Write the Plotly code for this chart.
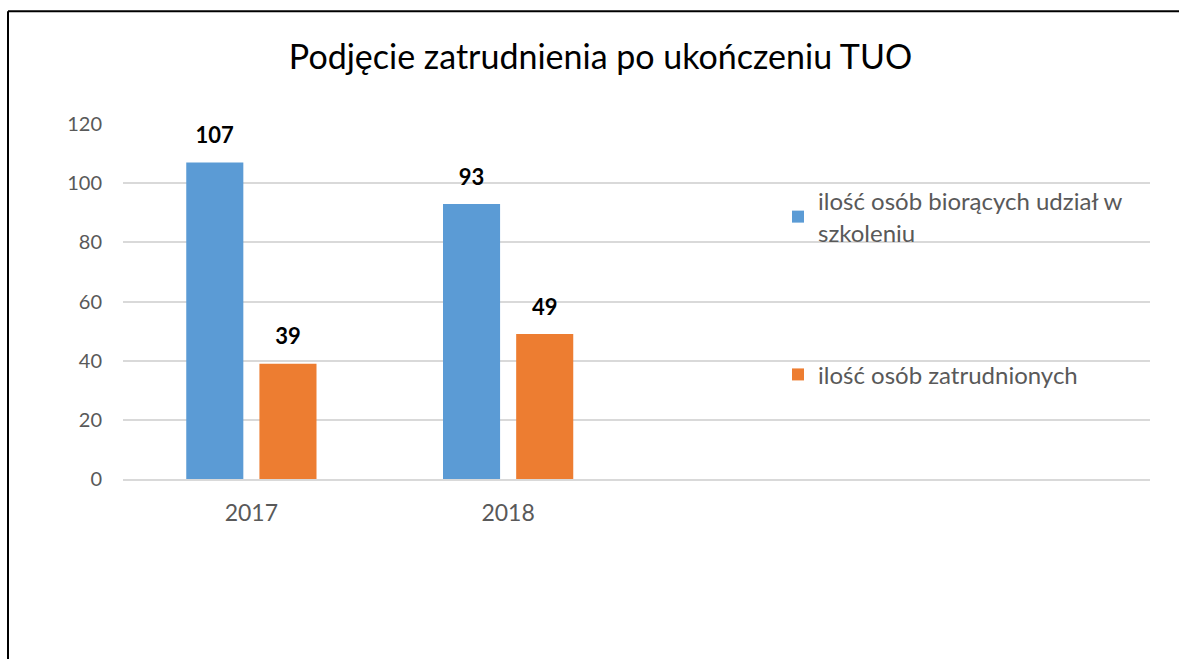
import plotly.graph_objects as go

# ---- data ----
categories = ["2017", "2018", " ", "  "]
series_names = ["ilość osób biorących udział w<br>szkoleniu", "ilość osób zatrudnionych"]
participants = [107, 93, None, None]
employed = [39, 49, None, None]
title_text = "Podjęcie zatrudnienia po ukończeniu TUO"
y_ticks = [0, 20, 40, 60, 80, 100, 120]

colors = ["#5B9BD5", "#ED7D31"]
FONT = "Lato, sans-serif"

def labels(vals):
    return [("<span style='font-size:22px'><b>%d</b></span><br> " % v) if v is not None else ""
            for v in vals]

fig = go.Figure()
for name, vals, col, grp in zip(series_names, [participants, employed], colors, ["a", "b"]):
    fig.add_trace(go.Bar(
        x=categories, y=vals, name=name, marker=dict(color=col, line=dict(width=0)),
        text=labels(vals), textposition="outside", cliponaxis=False,
        textfont=dict(family=FONT, size=11, color="#000000"),
        legendgroup=grp,
    ))

W, H = 1179, 659
L, R, T, B = 123, 29, 124, 179.5
pw, ph = W - L - R, H - T - B

fig.update_layout(
    width=W, height=H,
    margin=dict(l=L, r=R, t=T, b=B, autoexpand=False),
    paper_bgcolor="white", plot_bgcolor="white",
    barmode="group", bargap=0.43, bargroupgap=0.22,
    title=dict(text=title_text, x=600.5 / W, xref="container", xanchor="center",
               y=(H - 57) / H, yanchor="middle",
               font=dict(family=FONT, size=34, color="#000000")),
    font=dict(family=FONT, color="#595959"),
    xaxis=dict(type="category", categoryorder="array", categoryarray=categories,
               range=[-0.5, 3.5], showgrid=False, showline=True, linecolor="#D9D9D9",
               linewidth=1.5, ticks="", tickfont=dict(family=FONT, size=23, color="#595959"),
               ticklabelstandoff=13),
    yaxis=dict(range=[0, 120], tickvals=y_ticks, showgrid=True, gridcolor="#D9D9D9",
               gridwidth=1.5, zeroline=False, showline=False, ticks="",
               tickfont=dict(family=FONT, size=20, color="#595959"), ticklabelstandoff=20),
    legend=dict(x=(778 - L) / pw, xanchor="left", y=1 - (179 - T) / ph, yanchor="top",
                font=dict(family=FONT, size=24, color="#595959"),
                traceorder="grouped", tracegroupgap=108, bgcolor="rgba(0,0,0,0)",
                itemwidth=30),
    showlegend=True,
    shapes=[
        dict(type="line", xref="paper", yref="paper",
             x0=(8 - L) / pw, x1=(8 - L) / pw, y0=-1, y1=1 + (T - 11) / ph,
             line=dict(color="#000000", width=2)),
        dict(type="line", xref="paper", yref="paper",
             x0=(8 - L) / pw, x1=(W + 20 - L) / pw, y0=1 + (T - 11) / ph, y1=1 + (T - 11) / ph,
             line=dict(color="#000000", width=2)),
    ],
)

fig.write_html("out.html", config={"displayModeBar": False},
               post_script=("document.documentElement.style.overflow='hidden';"
                            "document.body.style.margin='0';document.body.style.overflow='hidden';"))
